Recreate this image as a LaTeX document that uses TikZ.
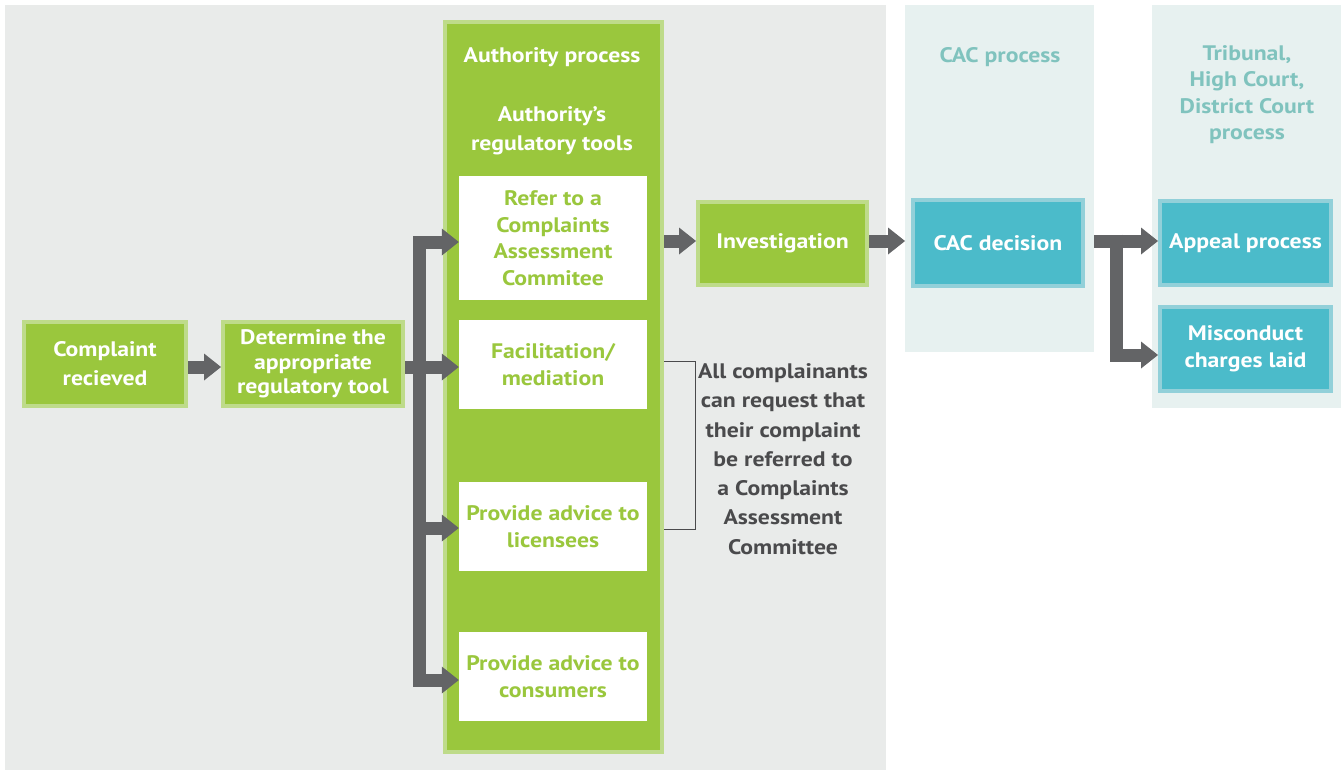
\documentclass[tikz,border=0pt]{standalone}
\usepackage{fontspec}
\setmainfont[FakeStretch=1.13]{PT Sans}
\usetikzlibrary{arrows.meta,calc}
\definecolor{bggray}{HTML}{E9EBEA}
\definecolor{tealpanel}{HTML}{E7F1F0}
\definecolor{green}{HTML}{9AC73D}
\definecolor{lightgreen}{HTML}{BEDB8A}
\definecolor{tealfill}{HTML}{4BBBCA}
\definecolor{tealborder}{HTML}{92D0D9}
\definecolor{tealtext}{HTML}{80C3BE}
\definecolor{arrowgray}{HTML}{636466}
\definecolor{notegray}{HTML}{4A4A4C}
\tikzset{
  boxtext/.style={font=\bfseries\fontsize{21}{26.5}\selectfont, align=center, inner sep=0pt},
  gbox/.style={boxtext, fill=green, draw=lightgreen, line width=4pt, text=white},
  tbox/.style={boxtext, fill=tealfill, draw=tealborder, line width=4pt, text=white},
  wbox/.style={boxtext, fill=white, text=green, minimum width=188pt},
  panel/.style={fill=tealpanel, inner sep=0pt, outer sep=0pt},
  flow/.style={draw=arrowgray, line width=13pt, line join=miter,
    -{Triangle[width=27pt,length=17pt,line width=0pt]}},
  bothflow/.style={draw=arrowgray, line width=13pt, line join=miter,
    {Triangle[width=27pt,length=17pt,line width=0pt]}-{Triangle[width=27pt,length=17pt,line width=0pt]}},
}
\begin{document}
\begin{tikzpicture}[x=1pt,y=-1pt]
\useasboundingbox (0,0) rectangle (1343,772);
\fill[white] (0,0) rectangle (1343,772);
\fill[bggray] (5,5) rectangle (886,770);
\node[panel, minimum width=189pt, minimum height=347pt] (cacpanel) at (999.5,178.5) {};
\node[panel, minimum width=189pt, minimum height=403pt] (tribpanel) at (1246.5,206.5) {};
\node[fill=green, draw=lightgreen, line width=4pt, inner sep=0pt, minimum width=217pt, minimum height=730pt] (authcol) at (553.5,387) {};

% titles
\node[boxtext, text=white] (authtitle) at (552,57) {Authority process};
\node[boxtext, text=white, font=\bfseries\fontsize{21}{29}\selectfont] (authtools) at (552,131) {Authority’s\\regulatory tools};
\node[boxtext, text=tealtext] (cactitle) at (1000,57) {CAC process};
\node[boxtext, text=tealtext] (tribtitle) at (1247,94.5) {Tribunal,\\High Court,\\District Court\\process};

% boxes
\node[gbox, minimum width=162pt, minimum height=84pt, font=\bfseries\fontsize{21}{29}\selectfont] (complaint) at (105,364) {Complaint\\recieved};
\node[gbox, minimum width=180pt, minimum height=84pt, font=\bfseries\fontsize{21}{24.5}\selectfont] (determine) at (313,364) {Determine the\\appropriate\\regulatory tool};
\node[wbox, minimum height=124pt] (refer) at (553,238) {Refer to a\\Complaints\\Assessment\\Commitee};
\node[wbox, minimum height=89pt] (facil) at (553,364.5) {Facilitation/\\mediation};
\node[wbox, minimum height=89pt] (licensees) at (553,526.5) {Provide advice to\\licensees};
\node[wbox, minimum height=89pt] (consumers) at (553,676.5) {Provide advice to\\consumers};
\node[gbox, minimum width=169pt, minimum height=83pt] (invest) at (782.5,243.5) {Investigation};
\node[tbox, minimum width=170pt, minimum height=86pt] (cac) at (998,243) {CAC decision};
\node[tbox, minimum width=171pt, minimum height=84pt] (appeal) at (1245.5,243) {Appeal process};
\node[tbox, minimum width=171pt, minimum height=84pt] (misconduct) at (1245.5,349) {Misconduct\\charges laid};

% note
\node[boxtext, text=notegray, font=\bfseries\fontsize{21}{29.3}\selectfont] (note) at (783,459) {All complainants\\can request that\\their complaint\\be referred to\\a Complaints\\Assessment\\Committee};
\draw[notegray, line width=1pt] (authcol.east |- 0,361) -- (695,361) -- (695,529) -- (authcol.east |- 0,529);

% connectors
\coordinate (ya) at (0,367);
\coordinate (bartop) at (419.5,242);
\coordinate (barbot) at (419.5,680);
\coordinate (barlic) at (419.5,528);
\draw[flow] (complaint.east |- ya) -- (determine.west |- ya);
\draw[flow] (determine.east |- ya) -- (facil.west |- ya);
\draw[bothflow] (refer.west |- bartop) -- (bartop) -- (barbot) -- (consumers.west |- barbot);
\draw[flow] (barlic) -- (licensees.west |- barlic);
\coordinate (yb) at (0,241);
\draw[flow] (authcol.east |- yb) -- (invest.west |- yb);
\draw[flow] (invest.east |- yb) -- (cacpanel.west |- yb);
\coordinate (rtop) at (1116,234.5);
\coordinate (rbot) at (1116,355);
\draw[flow] (cacpanel.east |- yb) -- (appeal.west |- yb);
\draw[flow] (rtop) -- (rbot) -- (misconduct.west |- rbot);
\end{tikzpicture}
\end{document}
